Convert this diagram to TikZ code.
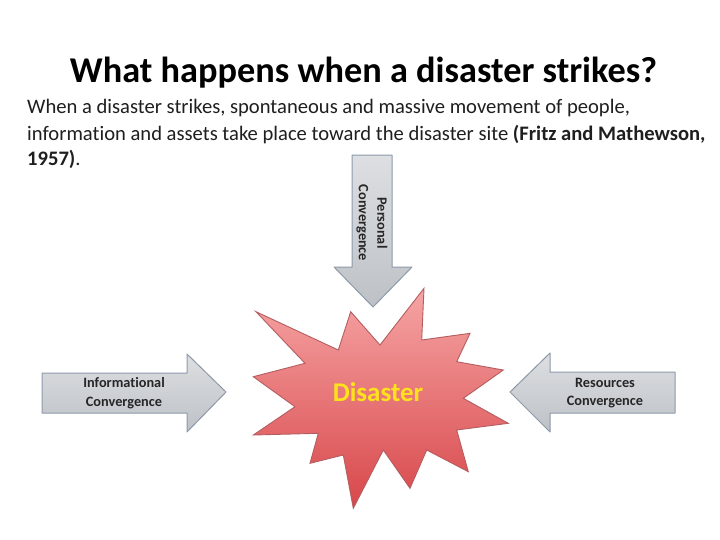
\documentclass[tikz,border=0pt]{standalone}
\usepackage{fontspec}
\setmainfont{Carlito}[Ligatures=CommonOff]
\definecolor{arrowtop}{HTML}{DDDFE2}
\definecolor{arrowbot}{HTML}{BDC1C6}
\definecolor{arrowline}{HTML}{8D9AAA}
\definecolor{burstTop}{HTML}{F6A5A5}
\definecolor{burstBot}{HTML}{D8474A}
\definecolor{burstLine}{HTML}{B45E62}
\definecolor{disasterYellow}{HTML}{FFE21C}
\tikzset{
  blockarrow/.style={top color=arrowtop, bottom color=arrowbot, draw=arrowline, line width=1pt, line join=round},
  arrowlabel/.style={font=\fontsize{14.3}{18.5}\selectfont\bfseries, align=center, text=black!85, inner sep=0pt},
  bodyline/.style={font=\fontsize{20.6}{24}\selectfont, anchor=base west, inner sep=0pt, text=black!88},
}
\begin{document}
\begin{tikzpicture}[x=1pt,y=-1pt]
\useasboundingbox (0,0) rectangle (720,539);
\fill[white] (0,0) rectangle (720,539);
% title
\node[font=\fontsize{36.3}{40}\selectfont\bfseries, anchor=base, inner sep=0pt] (title) at (363.5,82) {What happens when a disaster strikes?};
% body text
\node[bodyline] (l1) at (27,113) {When a disaster strikes, spontaneous and massive movement of people,};
\node[bodyline] (l2) at (27,140) {information and assets take place toward the disaster site \textbf{(Fritz and Mathewson,}};
\node[bodyline] (l3) at (27,165) {\textbf{1957)}.};
% personal convergence arrow (down)
\path[blockarrow] (352,155) -- (392,155) -- (392,267) -- (412,267) -- (373,307) -- (334,267) -- (352,267) -- cycle;
\node[arrowlabel, rotate=-90] (personal) at (372,223) {Personal\\Convergence};
% informational convergence arrow (right)
\path[blockarrow] (42,373) -- (187,373) -- (187,354) -- (226,392) -- (187,432) -- (187,413) -- (42,413) -- cycle;
\node[arrowlabel] (info) at (124,393) {Informational\\Convergence};
% resources convergence arrow (left)
\path[blockarrow] (675,372) -- (550,372) -- (550,353) -- (510,392) -- (550,432) -- (550,413) -- (675,413) -- cycle;
\node[arrowlabel] (res) at (605,393) {Resources\\Convergence};
% starburst
\path[top color=burstTop, bottom color=burstBot, draw=burstLine, line width=0.9pt, line join=miter]
  (256,311.7) -- (338.3,350) -- (350.7,311.7) -- (380,345) -- (424,288.3) -- (421.7,340)
  -- (470,333.3) -- (456.7,361.7) -- (503.3,370) -- (463.3,398.3) -- (508.3,423.3)
  -- (456.7,430) -- (468.3,471.7) -- (426.7,450) -- (410,488.3) -- (383.3,450)
  -- (353.3,508.3) -- (343.3,455) -- (310,463.3) -- (318.3,433.3) -- (253.3,435)
  -- (295,406.7) -- (253.3,376.7) -- (305,363.3) -- cycle;
\node[font=\fontsize{27}{32}\selectfont\bfseries, text=disasterYellow, inner sep=0pt] (disaster) at (378,392) {Disaster};
\end{tikzpicture}
\end{document}
